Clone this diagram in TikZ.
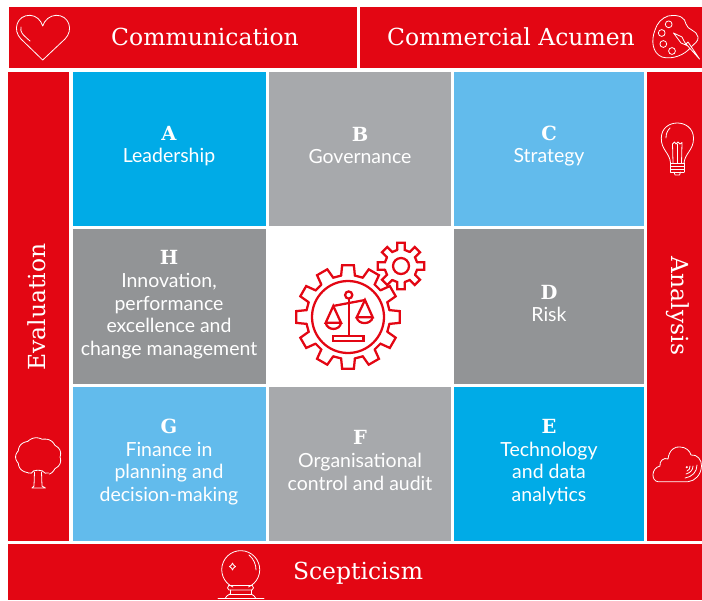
\documentclass[tikz,border=0pt]{standalone}
\usepackage{fontspec}
\setmainfont{Lato}
\newfontfamily\headfont{DejaVu Serif}
\definecolor{cred}{HTML}{E30613}
\definecolor{cblue}{HTML}{00ABE7}
\definecolor{clight}{HTML}{62BBEC}
\definecolor{cgrey}{HTML}{A7A9AC}
\definecolor{cdark}{HTML}{929496}
\tikzset{
  panel/.style={inner sep=0pt,outer sep=0pt,draw=none},
  head/.style={text=white,font=\headfont\fontsize{17.6}{20}\selectfont,inner sep=0pt},
  body/.style={text=white,align=center,inner sep=0pt,font=\fontsize{14.6}{17}\selectfont},
  icon/.style={draw=white,line width=0.6pt,line join=round,line cap=round},
  emblem/.style={draw=cred,line width=1.7pt,line join=miter},
}
\newcommand{\lett}[1]{{\headfont\bfseries #1}}
\newcommand{\gearshape}[6]{% cx cy rout rroot teeth halfwidth
  \begin{scope}[shift={(#1,#2)}]
  \pgfmathsetmacro{\stepang}{360/#5}
  \foreach \i in {1,...,#5}{
    \pgfmathsetmacro{\ang}{90+\i*\stepang}
    \pgfmathsetmacro{\aa}{\ang-#6*1.45}
    \pgfmathsetmacro{\ab}{\ang-#6}
    \pgfmathsetmacro{\ac}{\ang+#6}
    \pgfmathsetmacro{\ad}{\ang+#6*1.45}
    \pgfmathsetmacro{\ae}{\ang+\stepang-#6*1.45}
    \draw[emblem,line cap=round] (\aa:#4) -- (\ab:#3) -- (\ac:#3) -- (\ad:#4) -- (\ae:#4);
  }
  \end{scope}}
\begin{document}
\begin{tikzpicture}[x=0.75pt,y=-0.75pt]
\useasboundingbox (0,0) rectangle (702,600);
% panels
\fill[cred,panel] (9,7) rectangle (357,68);
\fill[cred,panel] (360,7) rectangle (702,68);
\fill[cred,panel] (8,72) rectangle (69,541);
\fill[cred,panel] (647,72) rectangle (702,541);
\fill[cred,panel] (8,544) rectangle (702,600);
\fill[cblue] (73,72) rectangle (266,226);
\fill[cgrey] (269,72) rectangle (451,226);
\fill[clight] (454,72) rectangle (644,226);
\fill[cdark] (73,229) rectangle (266,384);
\fill[cdark] (454,229) rectangle (644,384);
\fill[clight] (73,387) rectangle (266,541);
\fill[cgrey] (269,387) rectangle (451,541);
\fill[cblue] (454,387) rectangle (644,541);
% headings
\node[head] (comm) at (205,36.5) {Communication};
\node[head] (acumen) at (511,36.5) {Commercial Acumen};
\node[head,rotate=90] (eval) at (37,307) {Evaluation};
\node[head,rotate=-90] (anal) at (678,306) {Analysis};
\node[head] (scep) at (358,573.5) {Scepticism};
% cells text
\node[body] (a) at (169,146) {\lett{A}\\Leadership};
\node[body] (b) at (360,145.5) {\lett{B}\\Governance};
\node[body] (c) at (549,146) {\lett{C}\\Strategy};
\node[body] (h) at (169,305) {\lett{H}\\Innovation,\\performance\\excellence and\\change management};
\node[body] (d) at (549,303.5) {\lett{D}\\Risk};
\node[body] (g) at (169,462) {\lett{G}\\Finance in\\planning and\\decision-making};
\node[body] (f) at (360,460.5) {\lett{F}\\Organisational\\control and audit};
\node[body] (e) at (549,462) {\lett{E}\\Technology\\and data\\analytics};
% heart
\draw[icon] (42.7,60) -- (21,39) .. controls (12,30) and (17,15) .. (30,15.3)
  .. controls (36,15.5) and (41,20) .. (42.7,26) .. controls (44.5,20) and (50,15.5) .. (56,15.3)
  .. controls (69,15) and (74,30) .. (65,39) -- cycle;
\draw[icon] (21,27) .. controls (20,32) and (22,34) .. (30,41);
% palette
\draw[icon] (668,16) .. controls (680,14) and (685,18) .. (686,24)
  .. controls (687,30) and (697,30) .. (698,37) .. controls (699,41) and (694,44) .. (691,47)
  .. controls (685,55) and (672,60) .. (662,57) .. controls (652,53) and (651,40) .. (655,30)
  .. controls (657,23) and (662,18) .. (668,16);
\foreach \px/\py in {668.7/24.3,661.7/33,663.3/44,672/51}
  \draw[icon] (\px,\py) circle[radius=3.4];
\draw[icon,fill=cred] (699.5,59) -- (686,44) -- (688,42) -- cycle;
\draw[icon,fill=cred] (687,45.5) -- (681,43) -- (673.5,33) -- (682,37) -- (684.5,42) -- cycle;
% bulb
\draw[icon] (670.5,163) .. controls (670,153) and (661,150) .. (661.3,138) .. controls (661.5,118) and (693,118) .. (693.5,138)
  .. controls (693.8,150) and (685,153) .. (684,163);
\draw[icon] (670.5,163) -- (684,163) (670.5,166) -- (684,166) (670.5,169) -- (684,169) (670.5,172) -- (684,172);
\draw[icon] (670.5,163) -- (670.5,172) (684,163) -- (684,172);
\draw[icon] (674,172) -- (675,175) -- (679.5,175) -- (680.5,172);
\draw[icon] (673,163) -- (672.5,144) -- (674.5,142) -- (676,144) -- (678,142) -- (680,144) -- (682,142.5) -- (681.5,163);
\draw[icon] (677,144) -- (677,163);
\draw[icon] (666,138) .. controls (666,134) and (667,131) .. (670,128);
% tree
\draw[icon,smooth] plot[domain=-62:242,samples=140] ({38.5+(21.5+1.4*abs(sin(4.5*\x)))*cos(-\x)},{457+(18+1.4*abs(sin(4.5*\x)))*sin(-\x)});
\draw[icon] (33.5,471) .. controls (36,470) and (40,470) .. (42.5,471);
\draw[icon] (34.5,472) -- (34,486) -- (32,488) (41.5,472) -- (42,486) -- (45.5,488) (32,488) -- (45.5,488);
\draw[icon] (33.5,471) .. controls (32,473) and (31,474) .. (28.5,473);
\draw[icon] (42.5,471) .. controls (44,473) and (46,474) .. (48.5,473);
% crystal ball
\draw[icon] (233,587) arc[start angle=114,end angle=426,radius=19] ;
\draw[icon] (229,585) -- (252,585);
\draw[icon] (229,585) .. controls (227,587) and (227,589) .. (229,590) -- (252,590) .. controls (254,589) and (254,587) .. (252,585);
\draw[icon] (230,590) -- (230,594) (251,590) -- (251,594) (229,594) -- (252,594);
\draw[icon] (225,598.5) .. controls (226,596) and (228,595) .. (230,594) (256,598.5) .. controls (255,596) and (253,595) .. (251,594);
\draw[icon] (218,598.7) -- (264,598.7);
\draw[icon] (232.5,563) -- (233.5,565) -- (235.5,566.5) -- (233.5,568) -- (232.5,570) -- (231.5,568) -- (229.5,566.5) -- (231.5,565) -- cycle;
\draw[icon] (249,555) .. controls (254,559) and (256,565) .. (256,570);
% cloud
\draw[icon] (658,481.7) .. controls (651,481) and (651,468) .. (660,466) .. controls (659,461) and (664,457) .. (668,459)
  .. controls (669,450) and (675,446) .. (680,447) .. controls (686,447) and (690,451) .. (691,455)
  .. controls (697,454) and (702,460) .. (701.5,466) .. controls (701,475) and (695,481) .. (688,481.7) -- cycle;
\fill[white] (686.8,467.2) circle[radius=1.2];
\draw[icon] (686,474) .. controls (690,473) and (693,470) .. (693,466);
\draw[icon] (685,478) .. controls (692,477) and (697,472) .. (697,465);
\draw[icon] (690,466) .. controls (690,469) and (689,470) .. (687,471);
% emblem
\draw[emblem] (348,317) circle[radius=36];
\gearshape{348}{317}{52}{42}{12}{6.5}
\gearshape{401}{266}{23.5}{16.5}{8}{9}
\draw[emblem] (401,266) circle[radius=8];
\draw[emblem] (348.7,295) circle[radius=3.6];
\draw[emblem] (348.7,299) -- (348.7,336);
\draw[emblem] (333,306) -- (365,300);
\draw[emblem] (333,336) rectangle (363.5,341);
\draw[emblem] (325.7,322.7) -- (333.3,306) -- (341,322.7) -- cycle;
\draw[emblem] (325.7,322.7) .. controls (327,331) and (340,331) .. (341,322.7);
\draw[emblem] (356.7,317.3) -- (365,300) -- (372.7,317.3) -- cycle;
\draw[emblem] (356.7,317.3) .. controls (358,325) and (371,325) .. (372.7,317.3);
\end{tikzpicture}
\end{document}
